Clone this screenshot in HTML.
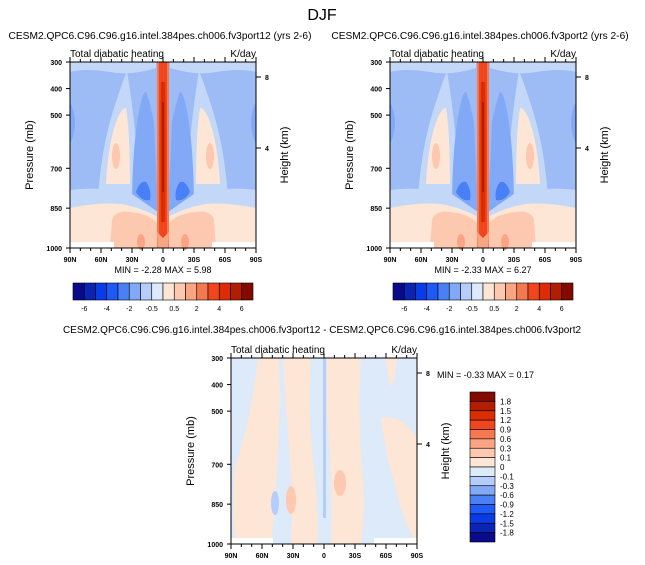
<!DOCTYPE html>
<html><head><meta charset="utf-8">
<style>
body{margin:0;background:#fff;}
svg{display:block;font-family:"Liberation Sans",Arial,sans-serif;}
</style></head>
<body>
<svg id="fig" width="645" height="565" viewBox="0 0 645 565" xmlns="http://www.w3.org/2000/svg">
<defs>
<g id="half">
  <rect x="0" y="0" width="93" height="186" fill="#9dbcf5"/>
  <path d="M0,0 H86 V6 Q60,14 40,10 Q15,6 0,10 Z" fill="#c3d8f8"/>
  <path d="M0,40 Q10,60 0,82 Z" fill="#82a9f5"/>
  <path d="M28,135 Q32,80 46,40 Q54,15 57,10 Q60,25 64,60 Q68,95 70,135 Z" fill="#c3d8f8"/>
  <path d="M36,122 Q38,80 48,55 Q53,45 56,46 Q60,70 60,122 Z" fill="#fde6d6"/>
  <ellipse cx="46" cy="94" rx="4" ry="13" fill="#fcc8b0"/>
  <path d="M62,150 Q62,90 68,55 Q72,30 76,30 Q80,40 84,60 L88,150 Z" fill="#82a9f5"/>
  <path d="M66,130 Q70,118 76,120 Q82,128 80,138 Q72,140 66,130 Z" fill="#4a80f5"/>
  <path d="M0,128 Q30,124 62,132 L88,150 L88,160 L0,160 Z" fill="#c3d8f8"/>
  <path d="M0,146 Q30,140 50,142 Q70,145 88,155 L88,186 L0,186 Z" fill="#fde6d6"/>
  <path d="M42,158 Q45,148 60,150 Q80,152 88,162 L88,186 L40,186 Z" fill="#fcc8b0"/>
  <ellipse cx="71" cy="180" rx="4" ry="8" fill="#f9a482"/>
  <rect x="0" y="180" width="44" height="6" fill="#ffffff"/>
  <rect x="87" y="0" width="6" height="186" fill="#f57850"/>
  <rect x="89" y="0" width="4" height="176" fill="#f0461e"/>
  <path d="M91,20 Q90,90 91,160 L93,160 L93,20 Z" fill="#dc2d00"/>
  <path d="M92,40 L93,40 L93,130 L92,130 Z" fill="#b41e00"/>
  <path d="M87,170 L93,176 L93,186 L88,186 Z" fill="#f9a482"/>
</g>
<g id="panelfill">
  <use href="#half"/>
  <use href="#half" transform="translate(186,0) scale(-1,1)"/>
</g>
</defs>
<text x="322" y="20" font-size="16" text-anchor="middle">DJF</text>
<g id="root"></g>
</svg>
<script>
const NS="http://www.w3.org/2000/svg";
const root=document.getElementById('root');
const pTicks=[300,400,500,700,850,1000];
const latLabels=['90N','60N','30N','0','30S','60S','90S'];
const hTicks=[8,4];
const hTickPx=[15,86];
const levels1=['-6','-4','-2','-0.5','0.5','2','4','6'];
const levels2=['1.8','1.5','1.2','0.9','0.6','0.3','0.1','0','-0.1','-0.3','-0.6','-0.9','-1.2','-1.5','-1.8'];
const colors=['#0a0a8c','#0a24b4','#0a3ce6','#1e5af5','#4a80f5','#82a9f5','#b4cdfa','#dceaf9','#fde6d6','#fcc8b0','#f9a482','#f57850','#f0461e','#dc2d00','#b41e00','#820a00'];
function el(tag,attrs,parent){const e=document.createElementNS(NS,tag);for(const k in attrs)e.setAttribute(k,attrs[k]);(parent||root).appendChild(e);return e;}
function txt(x,y,s,size,anchor,parent,extra){const t=el('text',Object.assign({x:x,y:y,'font-size':size,'text-anchor':anchor||'start'},extra||{}),parent);t.textContent=s;return t;}
function py(p,oy){return oy+(p-300)/700*186;}
function axes(ox,oy,title,name,fillFn){
  const g=el('g',{});
  
  
  fillFn(g);
  el('rect',{x:ox,y:oy,width:186,height:186,fill:'none',stroke:'#000','stroke-width':1},g);
  for(const p of pTicks){const y=py(p,oy);el('line',{x1:ox-4,y1:y,x2:ox,y2:y,stroke:'#000'},g);txt(ox-8,y+3,String(p),7,'end',g,{'font-weight':'bold'});}
  for(let i=0;i<=18;i++){const x=ox+i*186/18;const L=i%3==0?5:3;el('line',{x1:x,y1:oy,x2:x,y2:oy-L,stroke:'#000'},g);el('line',{x1:x,y1:oy+186,x2:x,y2:oy+186+L,stroke:'#000'},g);}
  latLabels.forEach((s,i)=>txt(ox+i*31,oy+200,s,7,'middle',g,{'font-weight':'bold'}));
  hTicks.forEach((h,i)=>{const y=oy+hTickPx[i];el('line',{x1:ox+186,y1:y,x2:ox+191,y2:y,stroke:'#000'},g);txt(ox+195,y+3,String(h),7,'start',g,{'font-weight':'bold'});});
  txt(ox,oy-5,'Total diabatic heating',10,'start',g);
  txt(ox+186,oy-5,'K/day',10,'end',g);
  const yl=txt(0,0,'Pressure (mb)',11,'middle',g,{transform:`translate(${ox-37},${oy+93}) rotate(-90)`});
  
  const hl=txt(0,0,'Height (km)',11,'middle',g,{transform:`translate(${ox+218},${oy+93}) rotate(-90)`});
  
  return g;
}
function topPanel(ox,caseName,mn,mx,name){
  txt(ox+90,39,caseName+' (yrs 2-6)',10.2,'middle');
  axes(ox,62,'',name,g=>{el('use',{href:'#panelfill',x:ox,y:62},g);});
  txt(ox+93,273,'MIN =  -'+mn+'  MAX =   '+mx,9,'middle');
  const cb=el('g',{});
  
  
  const x0=ox+3,w=180/16;
  colors.forEach((c,i)=>el('rect',{x:x0+i*w,y:283,width:w,height:17,fill:c,stroke:'#000','stroke-width':0.6},cb));
  levels1.forEach((s,i)=>{const k=i*2+1;txt(x0+k*w,311,s,7,'middle',cb);});
}
topPanel(70,'CESM2.QPC6.C96.C96.g16.intel.384pes.ch006.fv3port12','2.28','5.98','panel-fv3port12');
topPanel(390,'CESM2.QPC6.C96.C96.g16.intel.384pes.ch006.fv3port2','2.33','6.27','panel-fv3port2');
txt(322,333,'CESM2.QPC6.C96.C96.g16.intel.384pes.ch006.fv3port12 - CESM2.QPC6.C96.C96.g16.intel.384pes.ch006.fv3port2',10,'middle');
axes(231,358,'','panel-difference',g=>{
  const ox=231,oy=358;
  el('rect',{x:ox,y:oy,width:186,height:186,fill:'#dceaf9'},g);
  const P='#fde6d6';
  const shapes=[
    'M27,0 L48,0 Q50,60 46,110 Q44,150 40,186 L5,186 Q0,150 4,110 Q20,60 27,0 Z',
    'M52,0 L80,0 Q76,60 84,120 Q88,160 86,186 L60,186 Q62,140 58,90 Q54,40 52,0 Z',
    'M96,0 L130,0 Q126,60 132,120 Q134,160 130,186 L100,186 Q102,120 96,60 Z',
    'M155,0 L166,0 Q165,20 160,30 Q156,15 155,0 Z',
    'M150,60 Q170,55 186,80 L186,186 Q170,160 165,130 Q155,100 150,60 Z'];
  shapes.forEach(d=>el('path',{d:d,fill:P,transform:`translate(${ox},${oy})`},g));
  el('path',{d:`M${ox+92},${oy} L${ox+95},${oy} L${ox+95},${oy+160} L${ox+92},${oy+160} Z`,fill:'#b4cdfa'},g);
  el('ellipse',{cx:ox+60,cy:oy+142,rx:5,ry:14,fill:'#fcc8b0'},g);
  el('ellipse',{cx:ox+109,cy:oy+125,rx:6,ry:13,fill:'#fcc8b0'},g);
  el('ellipse',{cx:ox+44,cy:oy+145,rx:4,ry:12,fill:'#b4cdfa'},g);
  el('rect',{x:ox,y:oy+180,width:42,height:6,fill:'#fff'},g);
  el('rect',{x:ox+143,y:oy+180,width:43,height:6,fill:'#fff'},g);
});
txt(437,378,'MIN =  -0.33  MAX =   0.17',9,'start');
const cb2=el('g',{});


const h2=150/16;
colors.slice().reverse().forEach((c,i)=>el('rect',{x:470,y:392+i*h2,width:25,height:h2,fill:c,stroke:'#000','stroke-width':0.6},cb2));
levels2.forEach((s,i)=>txt(500,392+(i+1)*h2+3,s,8,'start',cb2));
</script>
</body></html>
